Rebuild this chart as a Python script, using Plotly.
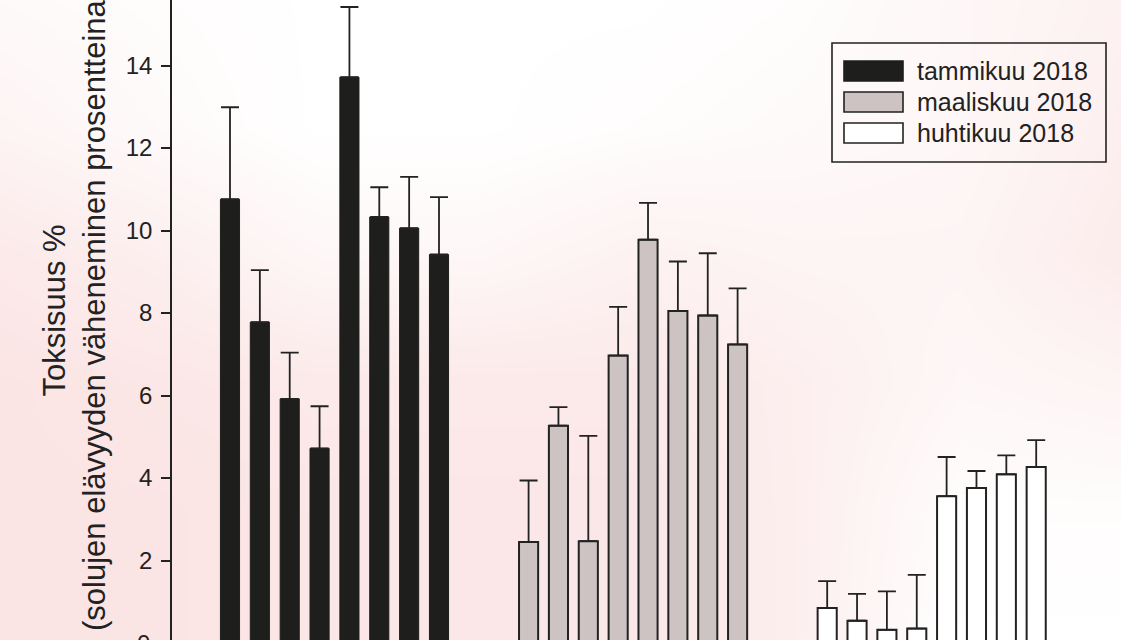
import plotly.graph_objects as go

# Toxicity (% decrease in cell viability), eight samples per sampling month
months = ["tammikuu 2018", "maaliskuu 2018", "huhtikuu 2018"]
jan_vals = [10.76, 7.78, 5.92, 4.72, 13.72, 10.33, 10.06, 9.42]
jan_err = [2.23, 1.26, 1.12, 1.02, 1.70, 0.72, 1.24, 1.39]
mar_vals = [2.45, 5.27, 2.47, 6.97, 9.78, 8.05, 7.94, 7.24]
mar_err = [1.49, 0.45, 2.55, 1.18, 0.89, 1.20, 1.51, 1.36]
apr_vals = [0.85, 0.54, 0.32, 0.35, 3.56, 3.76, 4.09, 4.27]
apr_err = [0.65, 0.65, 0.93, 1.30, 0.95, 0.41, 0.46, 0.65]
y_ticks = [0, 2, 4, 6, 8, 10, 12, 14]

y_title = "Toksisuus %<br>(solujen elävyyden väheneminen prosentteina)"

W, H = 1121, 640
FONT = "Liberation Sans, Arial, sans-serif"
INK = "#222222"

series = [
    (months[0], jan_vals, jan_err, "#1e1e1c", "#1e1e1c", 1.0),
    (months[1], mar_vals, mar_err, "#cec3c3", INK, 2.0),
    (months[2], apr_vals, apr_err, "#ffffff", INK, 2.0),
]

fig = go.Figure()

# soft pink wash behind the whole chart
haze_x = [0, 160, 320, 480, 640, 800, 960, 1121]
haze_y = [0, 128, 256, 384, 512, 640]
haze_z = [
    [0.20, 0.10, 0.00, 0.00, 0.00, 0.10, 0.30, 0.50],
    [0.40, 0.20, 0.00, 0.00, 0.10, 0.20, 0.30, 0.60],
    [0.80, 0.60, 0.30, 0.30, 0.50, 0.40, 0.40, 0.70],
    [1.00, 0.90, 0.80, 0.80, 0.80, 0.60, 0.30, 0.40],
    [1.00, 1.00, 0.90, 0.90, 0.90, 0.60, 0.10, 0.10],
    [1.00, 1.00, 0.90, 0.90, 0.90, 0.60, 0.00, 0.00],
]
fig.add_trace(go.Heatmap(
    x=haze_x, y=haze_y, z=haze_z, zsmooth="best", zmin=0, zmax=1,
    colorscale=[[0, "#ffffff"], [1, "rgb(251,228,228)"]],
    showscale=False, hoverinfo="skip", xaxis="x", yaxis="y",
))

# bars: group g occupies slots 10*g .. 10*g+7
for g, (name, vals, err, fill, edge, lw) in enumerate(series):
    xs = [10 * g + i for i in range(len(vals))]
    fig.add_trace(go.Bar(
        x=xs, y=vals, name=name, width=0.64,
        marker=dict(color=fill, line=dict(color=edge, width=lw)),
        error_y=dict(type="data", array=err, arrayminus=[0] * len(err),
                     symmetric=False, color=INK, thickness=1.8, width=9),
        xaxis="x2", yaxis="y2", showlegend=False,
    ))

plot_left = 172 / W
fig.update_layout(
    width=W, height=H,
    margin=dict(l=0, r=0, t=0, b=0),
    paper_bgcolor="#ffffff", plot_bgcolor="rgba(0,0,0,0)",
    barmode="overlay", showlegend=False,
    font=dict(family=FONT, color=INK),
    xaxis=dict(domain=[0, 1], range=[0, W], visible=False, fixedrange=True),
    yaxis=dict(domain=[0, 1], range=[H, 0], visible=False, fixedrange=True),
    xaxis2=dict(domain=[plot_left, 1], range=[-1.942, 29.84], visible=False,
                anchor="y2"),
    yaxis2=dict(domain=[0, 1], range=[0.073, 15.59], anchor="x2",
                tickvals=y_ticks[1:], ticktext=[str(v) for v in y_ticks[1:]],
                ticks="outside", ticklen=9, tickwidth=1.5, tickcolor=INK,
                showline=True, linecolor=INK, linewidth=1.6,
                showgrid=False, zeroline=False,
                tickfont=dict(size=24, color=INK), ticklabelstandoff=4),
)

# the "0" tick label sits just below the visible area
fig.add_annotation(
    text=str(y_ticks[0]), xref="paper", yref="paper",
    x=152 / W, y=1 - 643 / H, xanchor="right", yanchor="middle",
    showarrow=False, font=dict(size=24, color=INK),
)

# y-axis title
fig.add_annotation(
    text=y_title, xref="paper", yref="paper",
    x=74 / W, y=1 - 311 / H, xanchor="center", yanchor="middle",
    textangle=-90, showarrow=False, font=dict(size=31, color=INK),
)

# legend box with wide swatches
def px_x(v):
    return v / W


def px_y(v):
    return 1 - v / H


fig.add_shape(type="rect", xref="paper", yref="paper",
              x0=px_x(832), x1=px_x(1106), y0=px_y(43), y1=px_y(162),
              line=dict(color=INK, width=1.6), fillcolor="rgba(0,0,0,0)")
row_centers = [71, 102, 133]
for (name, vals, err, fill, edge, lw), yc in zip(series, row_centers):
    fig.add_shape(type="rect", xref="paper", yref="paper",
                  x0=px_x(844), x1=px_x(903), y0=px_y(yc - 10), y1=px_y(yc + 10),
                  line=dict(color=edge, width=1.6), fillcolor=fill)
    fig.add_annotation(text=name, xref="paper", yref="paper",
                       x=px_x(915), y=px_y(yc), xanchor="left", yanchor="middle",
                       showarrow=False, font=dict(size=25, color=INK))

fig.write_html("out.html")
